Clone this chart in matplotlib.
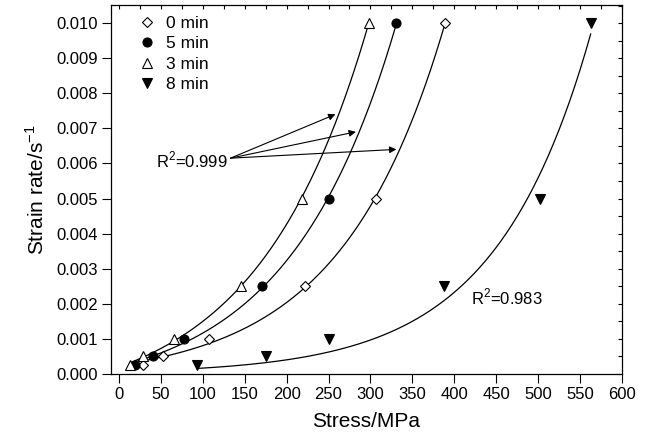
import numpy as np
import matplotlib
matplotlib.use("Agg")
import matplotlib.pyplot as plt
from matplotlib.ticker import MultipleLocator, FormatStrFormatter

plt.rcParams["font.family"] = ["Liberation Sans", "DejaVu Sans"]
plt.rcParams["mathtext.fontset"] = "custom"
plt.rcParams["mathtext.rm"] = "Liberation Sans"

# strain rates (1/s) and the stresses (MPa) measured at each rate
rate = [0.00025, 0.0005, 0.001, 0.0025, 0.005, 0.010]
stress_0 = [28, 53, 107, 222, 307, 389]
stress_5 = [19, 40, 78, 170, 251, 331]
stress_3 = [13, 28, 66, 145, 218, 298]
stress_8 = [93, 175, 250, 388, 503, 563]

labels = ["0 min", "5 min", "3 min", "8 min"]
r2_main = "R$^2$=0.999"
r2_8 = "R$^2$=0.983"
# strain rate where each R^2=0.999 arrow meets its curve (3, 5, 0 min)
arrow_rates = [0.0074, 0.0069, 0.0064]


def fit_exp(x, y, offset=True):
    """Exponential growth fit y = y0 + A*exp(x/t) (y0 = 0 if offset is False)."""
    x = np.asarray(x, float)
    y = np.asarray(y, float)
    best = None
    for t in np.linspace(20, 600, 3000):
        e = np.exp(x / t)
        M = np.column_stack([np.ones_like(x), e]) if offset else e[:, None]
        coef, *_ = np.linalg.lstsq(M, y, rcond=None)
        err = np.sum((M @ coef - y) ** 2)
        if best is None or err < best[0]:
            best = (err, coef, t)
    _, coef, t = best
    y0, a = (coef[0], coef[1]) if offset else (0.0, coef[0])
    f = lambda s: y0 + a * np.exp(s / t)
    finv = lambda r: t * np.log((r - y0) / a)
    return f, finv


fig = plt.figure(figsize=(6.54, 4.40), dpi=100)
ax = fig.add_axes([0.1693, 0.15, 0.7813, 0.8375])

series = [
    (stress_0, True, dict(marker="D", mfc="white", mec="black", ms=5.5, mew=0.8)),
    (stress_5, True, dict(marker="o", mfc="black", mec="black", ms=6.5, mew=0.8)),
    (stress_3, True, dict(marker="^", mfc="white", mec="black", ms=7.5, mew=0.8)),
    (stress_8, False, dict(marker="v", mfc="black", mec="black", ms=7.5, mew=0.8)),
]
inverse = {}
for (xs, offset, style), lab in zip(series, labels):
    f, finv = fit_exp(xs, rate, offset)
    inverse[lab] = finv
    xx = np.linspace(min(xs), max(xs), 300)
    ax.plot(xx, f(xx), color="black", lw=0.9, zorder=2)
    ax.plot(xs, rate, ls="none", label=lab, zorder=3, **style)

# R^2 callouts
arrow = dict(arrowstyle="-|>", color="black", lw=0.8, mutation_scale=10,
             shrinkA=0, shrinkB=0)
for lab, r in zip(["3 min", "5 min", "0 min"], arrow_rates):
    ax.annotate("", xy=(inverse[lab](r) - 4, r), xytext=(133, 0.00615),
                arrowprops=arrow)
ax.text(130, 0.0061, r2_main, ha="right", va="center", fontsize=12)
ax.text(420, 0.0022, r2_8, ha="left", va="center", fontsize=12)

ax.set_xlim(-10, 600)
ax.set_ylim(0, 0.0105)
ax.xaxis.set_major_locator(MultipleLocator(50))
ax.xaxis.set_minor_locator(MultipleLocator(25))
ax.yaxis.set_major_locator(MultipleLocator(0.001))
ax.yaxis.set_minor_locator(MultipleLocator(0.0005))
ax.yaxis.set_major_formatter(FormatStrFormatter("%.3f"))
ax.xaxis.remove_overlapping_locs = False
ax.yaxis.remove_overlapping_locs = False
ax.tick_params(which="major", direction="out", length=6.5, width=0.8,
               top=False, right=False, labelsize=12, pad=3)
ax.tick_params(which="minor", direction="in", length=3, width=0.8,
               bottom=False, left=False, top=True, right=True)
for sp in ax.spines.values():
    sp.set_linewidth(0.9)

ax.set_xlabel("Stress/MPa", fontsize=15, labelpad=7)
ax.set_ylabel("Strain rate/s$^{-1}$", fontsize=15, labelpad=6)

ax.legend(loc="upper left", frameon=False, fontsize=12.5, handletextpad=0.5,
          labelspacing=0.3, borderaxespad=0.2, handlelength=1.2,
          bbox_to_anchor=(0.03, 1.0))

fig.savefig("out.png", dpi=100)
